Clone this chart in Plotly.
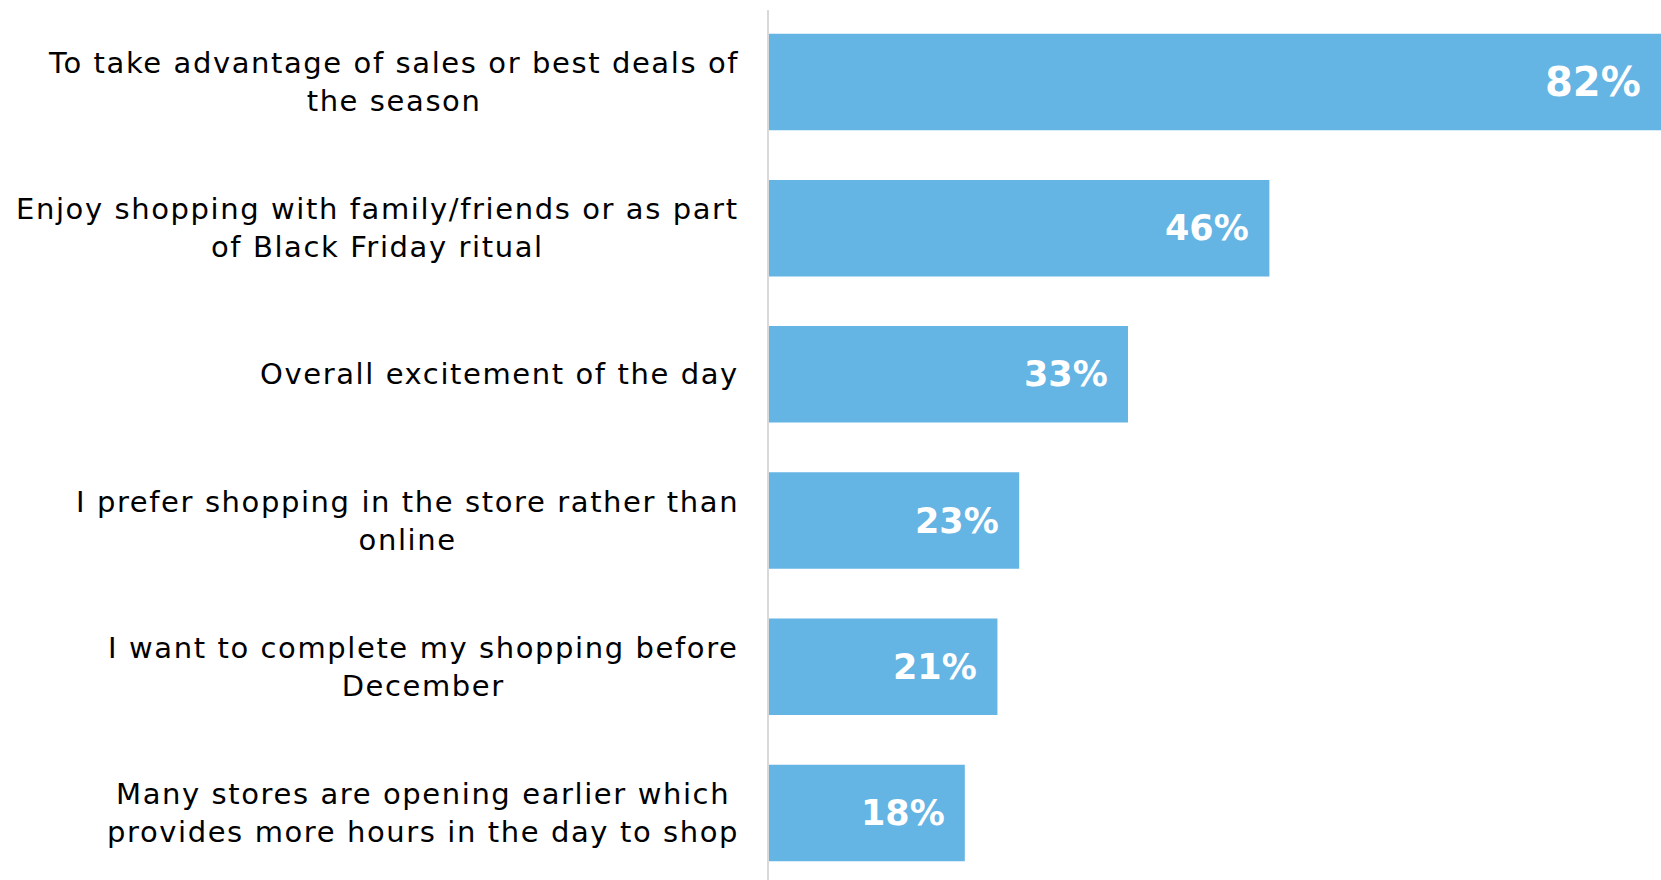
import plotly.graph_objects as go

# Reasons for shopping on Black Friday (share of respondents)
reasons = [
    "To take advantage of sales or best deals of<br>the season",
    "Enjoy shopping with family/friends or as part<br>of Black Friday ritual",
    "Overall excitement of the day",
    "I prefer shopping in the store rather than<br>online",
    "I want to complete my shopping before<br>December",
    "Many stores are opening earlier which<br>provides more hours in the day to shop",
]
shares = [82, 46, 33, 23, 21, 18]
share_labels = ["82%", "46%", "33%", "23%", "21%", "18%"]

BAR_COLOR = "#64B4E4"
FONT = "DejaVu Sans"


def spaced(text, px):
    """Wrap each line of a label in a letter-spaced span."""
    return "<br>".join(
        f'<span style="letter-spacing:{px}px">{line}</span>' for line in text.split("<br>")
    )


fig = go.Figure(
    go.Bar(
        x=shares,
        y=list(range(len(reasons))),
        orientation="h",
        marker=dict(color=BAR_COLOR, line=dict(width=0)),
        hoverinfo="skip",
    )
)

annotations = []
top_share = max(shares)
for i, (reason, share, lab) in enumerate(zip(reasons, shares, share_labels)):
    # category label, centred lines, right edge near the axis
    annotations.append(dict(
        x=0, xref="paper", xanchor="right", xshift=-28,
        y=i, yref="y", yanchor="middle",
        text=spaced(reason, 1.6), align="center", showarrow=False,
        font=dict(family=FONT, size=29, color="#000000"),
    ))
    # value label inside the bar end
    annotations.append(dict(
        x=share, xref="x", xanchor="right", xshift=-18,
        y=i, yref="y", yanchor="middle",
        text=f"<b>{lab}</b>", showarrow=False,
        font=dict(family=FONT, size=40 if share == top_share else 35, color="#FFFFFF"),
    ))

fig.update_layout(
    width=1661,
    height=880,
    margin=dict(l=769, r=0, t=10, b=0),
    paper_bgcolor="white",
    plot_bgcolor="white",
    showlegend=False,
    bargap=0.34,
    annotations=annotations,
    xaxis=dict(range=[0, top_share], visible=False, fixedrange=True),
    yaxis=dict(
        range=[5.459, -0.4925],
        showticklabels=False,
        showgrid=False,
        zeroline=False,
        showline=True,
        linecolor="#D9D9D9",
        linewidth=2,
        ticks="",
        fixedrange=True,
    ),
)

fig.write_html("out.html")
